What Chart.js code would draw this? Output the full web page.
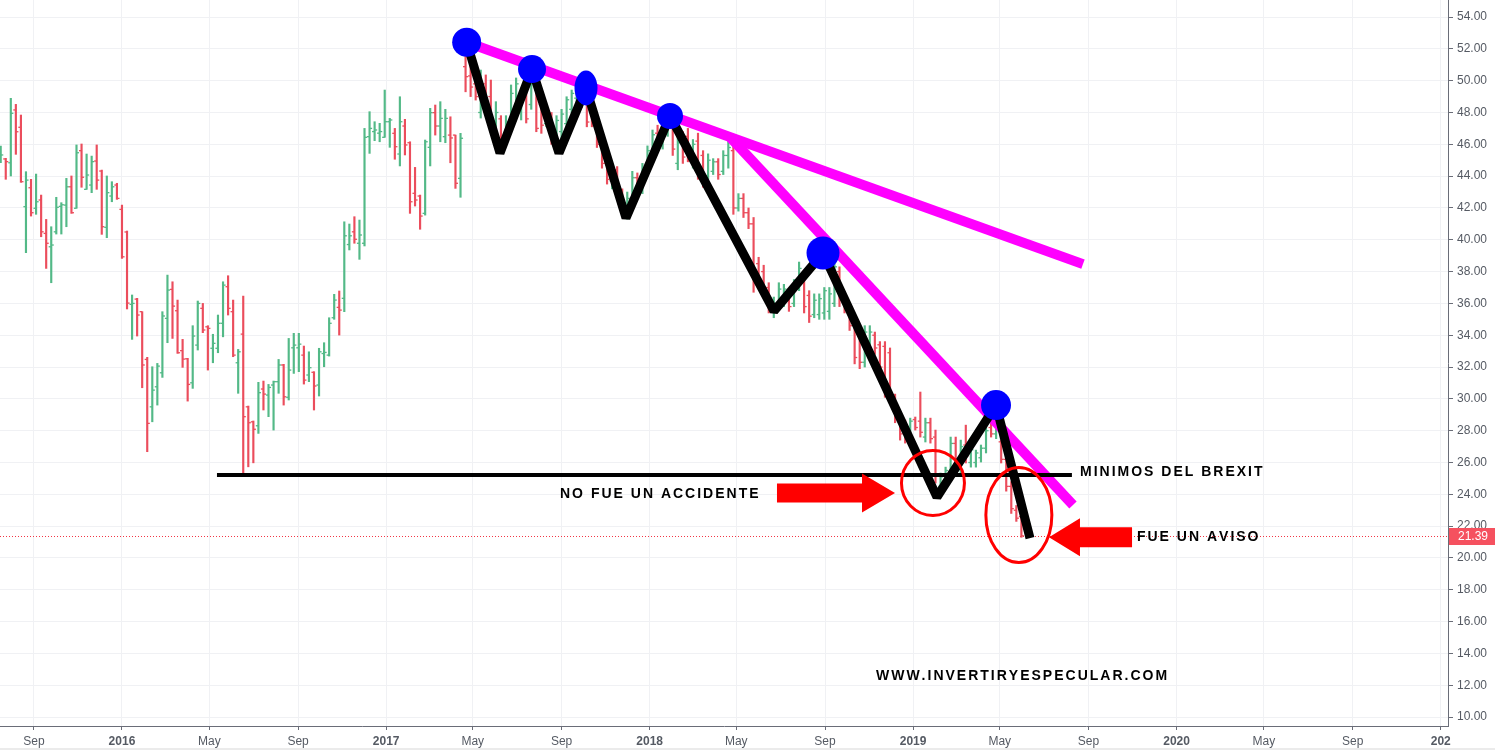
<!DOCTYPE html>
<html>
<head>
<meta charset="utf-8">
<script src="https://cdn.jsdelivr.net/npm/chart.js@4.4.1/dist/chart.umd.min.js"></script>
<style>
html,body{margin:0;padding:0;background:#ffffff;overflow:hidden;}
#box{position:relative;width:1495px;height:750px;}
</style>
</head>
<body>
<div id="box"><canvas id="chart" width="1495" height="750"></canvas></div>
<script>
// ---------- DATA ----------
const firstWeek = '2015-07-17';   // date of the first weekly bar (bars are one week apart)

const opens = [
45.01,45.08,44.84,48.16,47.07,42.08,43.27,41.98,42.50,40.40,
39.56,40.50,42.10,42.18,43.33,41.98,45.60,43.17,43.44,44.95,
44.32,40.78,42.75,43.44,41.91,40.49,35.94,36.27,35.48,32.48,
29.50,30.76,31.64,35.06,36.88,35.54,33.03,32.52,31.01,33.38,
35.69,34.53,33.18,33.18,34.75,37.05,35.48,32.27,34.07,29.50,
28.56,28.31,30.62,30.24,30.87,31.08,32.13,30.10,33.21,33.21,
32.75,31.50,31.67,30.87,32.85,32.75,35.10,35.75,36.32,39.70,
40.50,39.78,39.78,46.48,46.80,46.70,46.44,47.42,46.69,45.39,
47.15,46.10,42.92,42.75,41.66,45.81,47.99,47.15,46.48,46.58,
46.58,43.86,50.88,50.30,49.80,48.00,49.80,49.00,46.40,47.60,
46.20,47.50,48.20,48.00,49.00,48.50,50.00,48.50,47.30,47.80,
46.00,46.80,47.30,48.20,48.90,49.30,49.00,48.60,47.30,46.00,
44.80,43.70,44.40,42.90,41.70,42.60,43.90,43.20,44.50,45.50,
46.70,45.90,47.00,47.60,44.80,46.20,46.50,45.00,46.20,45.30,
44.00,44.30,44.90,44.30,45.30,45.60,42.00,42.60,41.70,41.00,
38.50,38.00,37.00,35.50,36.00,36.20,36.60,36.00,37.10,37.80,
36.50,35.30,35.30,35.40,35.50,36.00,38.00,36.30,35.60,34.80,
34.20,32.30,33.30,34.00,33.40,33.30,32.90,30.00,28.60,28.40,
27.80,28.70,28.60,27.60,28.50,27.60,24.50,24.90,25.40,27.20,
25.70,27.10,26.00,26.00,26.30,26.90,28.20,27.80,27.30,26.20,
24.50,23.00,22.60];

const highs = [
45.89,45.12,48.89,48.51,47.84,44.28,43.80,44.13,42.81,41.28,
40.82,42.67,42.33,43.86,44.01,45.96,46.02,45.39,45.26,45.96,
44.38,44.01,43.65,43.55,42.18,40.55,36.53,36.32,35.48,32.61,
32.02,32.23,35.48,37.78,37.36,36.21,33.74,32.55,34.60,36.15,
36.00,34.60,34.06,35.27,37.36,37.74,36.21,33.11,36.46,29.55,
28.61,31.04,31.12,30.91,31.12,32.48,32.17,33.80,34.12,34.12,
33.32,32.96,31.71,33.18,33.53,35.10,36.57,36.78,41.13,40.99,
41.45,41.24,47.00,48.05,47.42,47.32,49.41,47.63,47.00,48.99,
47.57,46.16,44.55,42.81,46.27,48.26,48.47,48.68,48.20,47.73,
46.58,46.69,52.40,51.20,50.50,50.67,50.36,50.04,48.68,47.80,
47.80,49.73,50.17,49.41,49.22,50.70,50.25,48.99,48.15,48.00,
47.80,48.20,48.99,49.41,49.60,50.00,49.20,48.90,47.50,46.30,
45.30,44.80,44.60,43.20,43.00,44.30,44.20,44.80,45.90,46.90,
47.20,47.50,48.00,47.90,46.60,46.80,47.00,46.30,46.70,45.60,
45.40,45.10,45.10,45.60,46.40,45.90,42.90,42.90,42.00,41.40,
38.90,38.40,37.30,36.40,37.30,37.20,36.80,37.50,38.60,38.00,
36.80,36.60,36.60,37.00,37.00,38.60,38.30,36.60,35.80,35.10,
34.50,34.60,34.60,34.20,33.60,33.60,33.20,30.30,28.86,28.67,
28.79,28.86,30.43,28.79,28.79,28.04,25.34,25.71,27.60,27.60,
27.41,28.35,26.97,26.78,27.10,28.30,28.48,29.20,27.41,26.50,
24.80,23.30,22.90];

const lows = [
44.84,43.80,44.01,45.37,43.61,39.19,41.49,41.60,40.19,38.20,
37.30,40.36,40.36,40.82,41.66,41.98,43.30,43.17,42.96,43.17,
40.34,40.13,42.39,42.54,38.83,35.65,33.74,33.95,30.70,26.68,
28.56,29.61,31.35,33.53,33.80,32.86,31.98,29.86,30.66,33.07,
34.16,31.81,32.27,32.90,33.90,35.27,32.65,30.35,25.27,25.73,
25.98,27.83,29.30,28.88,28.04,30.35,29.61,29.93,31.60,31.71,
30.93,31.08,29.30,30.18,32.02,32.69,35.00,34.01,35.48,39.36,
39.78,38.77,39.61,45.43,46.23,46.16,46.44,45.81,45.06,44.64,
45.33,41.66,42.12,40.66,41.55,44.64,46.58,46.16,46.10,44.84,
43.23,42.67,49.30,49.00,48.78,47.65,47.97,46.90,45.96,45.50,
45.90,47.34,47.73,47.53,47.34,48.20,46.79,46.69,47.10,46.00,
45.50,46.30,47.10,47.95,48.00,48.30,47.10,47.10,45.80,44.50,
43.50,43.20,42.50,41.50,41.30,42.30,42.90,42.90,44.20,45.10,
45.60,45.70,46.50,45.30,44.40,44.80,44.90,44.50,43.80,43.30,
43.80,44.10,43.80,44.10,44.50,41.60,41.80,41.40,40.70,36.70,
37.00,36.70,35.40,35.10,35.60,35.80,35.50,35.80,36.80,35.40,
34.80,35.10,35.00,35.00,35.00,35.80,35.80,35.40,34.30,32.20,
31.90,32.00,33.10,32.80,31.70,30.10,30.00,28.50,27.41,27.22,
27.60,28.04,27.60,27.29,27.22,24.71,24.27,24.71,25.09,25.34,
25.34,25.97,25.71,25.71,26.03,26.60,27.60,27.50,25.97,24.20,
22.80,22.30,21.30];

const closes = [
45.33,44.91,47.95,46.79,43.65,43.75,41.70,42.39,40.50,39.78,
39.67,42.04,42.20,43.33,41.70,45.47,43.93,44.07,44.91,43.75,
40.82,42.96,43.33,42.60,38.93,36.02,36.00,35.27,32.13,28.46,
30.55,32.06,35.21,36.84,35.83,32.90,32.50,30.91,33.95,36.00,
34.33,34.43,33.49,34.75,37.15,35.69,32.75,32.96,28.88,28.50,
28.09,30.39,30.30,30.72,31.08,32.13,30.13,31.81,33.38,33.44,
31.18,31.96,30.81,32.96,32.92,34.75,36.21,35.58,40.25,40.25,
40.03,40.30,46.44,47.00,46.90,46.80,47.42,47.53,45.85,47.42,
45.96,42.39,42.50,41.49,46.16,47.99,47.15,47.63,47.63,46.40,
43.55,46.38,50.25,49.60,49.00,49.80,48.30,47.20,48.00,46.00,
47.40,49.20,49.80,49.10,47.60,50.20,47.00,47.20,47.90,46.30,
47.50,47.90,48.80,49.20,49.30,48.60,47.40,47.30,46.00,44.80,
43.80,44.50,42.80,41.80,42.60,43.90,43.20,44.50,45.60,46.60,
45.90,47.20,47.70,45.70,46.10,45.20,45.40,46.00,44.20,43.60,
45.00,44.90,44.10,45.30,45.80,42.00,42.60,41.70,41.00,37.40,
37.30,37.00,35.80,36.00,36.90,36.90,35.80,37.20,38.20,35.80,
35.20,36.20,36.30,36.80,36.60,38.30,36.20,35.60,34.60,32.60,
32.30,34.20,34.20,33.20,32.00,30.50,30.40,28.80,27.80,27.60,
28.60,28.20,27.90,28.50,27.50,25.30,25.10,25.50,27.20,25.70,
27.00,26.40,26.80,26.60,26.90,28.00,27.80,28.80,26.20,24.50,
23.10,22.50,21.39];

const lastPrice = 21.39;

const yTicks = [10,12,14,16,18,20,22,24,26,28,30,32,34,36,38,40,42,44,46,48,50,52,54];
const xTickDates = ['2015-09-01','2016-01-01','2016-05-01','2016-09-01','2017-01-01','2017-05-01','2017-09-01',
  '2018-01-01','2018-05-01','2018-09-01','2019-01-01','2019-05-01','2019-09-01','2020-01-01','2020-05-01',
  '2020-09-01','2021-01-01'];
const xTickLabels = ['Sep','2016','May','Sep','2017','May','Sep','2018','May','Sep','2019','May','Sep','2020','May','Sep','202'];

// annotations, in [week position, price]
const trendLineTop = [[92.22,52.41],[214.19,38.47]];
const trendLineSteep = [[144.33,46.46],[212.21,23.33]];
const zigzag = [[92.22,52.41],[98.81,45.45],[105.15,50.73],[110.49,45.45],[115.83,49.54],[123.75,41.37],
  [132.46,47.78],[153.04,35.52],[162.74,39.17],[185.30,23.83],[196.98,29.61],[203.70,21.25]];
const peaks = [[92.22,52.41],[105.15,50.73],[115.83,49.54],[132.46,47.78],[162.74,39.17],[196.98,29.61]];
const brexitLow = [[42.8,25.21],[212.0,25.21]];
const circledZones = [[184.5,24.71],[201.5,22.70]];
const arrows = [[[153.63,24.08],[176.99,24.08]],[[223.9,21.31],[207.46,21.31]]];
const notes = [
  {text:'NO FUE UN ACCIDENTE', at:[110.69,24.02]},
  {text:'MINIMOS DEL BREXIT', at:[213.6,25.40]},
  {text:'FUE UN AVISO', at:[224.87,21.31]},
  {text:'WWW.INVERTIRYESPECULAR.COM', at:[173.22,12.58]}
];

// ---------- CHART ----------
const FONT = '"Liberation Sans", Arial, Helvetica, sans-serif';
const UP = '#53b987', DOWN = '#eb4d5c';
const barColors = closes.map((c,i)=> c >= opens[i] ? UP : DOWN);
const t0 = Date.parse(firstWeek + 'T00:00:00Z');
const weekPos = d => (Date.parse(d + 'T00:00:00Z') - t0) / 864e5 / 7;
const pts = arr => arr.map(p => ({x:p[0], y:p[1]}));

function ellipseCanvas(rx, ry, color){
  const cv = document.createElement('canvas');
  cv.width = rx*2; cv.height = ry*2;
  const g = cv.getContext('2d');
  g.fillStyle = color; g.beginPath(); g.ellipse(rx, ry, rx-0.5, ry-0.5, 0, 0, Math.PI*2); g.fill();
  return cv;
}
const peakRadius = [14.5,14,12,13,16.5,15];
const peakStyle = ['circle','circle',ellipseCanvas(12,18,'#0000ff'),'circle','circle','circle'];

const overlay = {
  id:'overlay',
  beforeDatasetsDraw(chart){
    const {ctx, chartArea:a, scales:{y}} = chart;
    const py = Math.round(y.getPixelForValue(lastPrice)) + 0.5;
    ctx.save();
    ctx.strokeStyle = '#f23645'; ctx.lineWidth = 1; ctx.setLineDash([1,2]);
    ctx.beginPath(); ctx.moveTo(a.left, py); ctx.lineTo(a.right, py); ctx.stroke();
    ctx.restore();
  },
  afterDatasetsDraw(chart){
    const {ctx, scales:{x,y}} = chart;
    ctx.save();
    const rad = [[31.5,32.5],[33,47.5]];
    ctx.strokeStyle = '#ff0000'; ctx.lineWidth = 3;
    circledZones.forEach((c,i)=>{
      ctx.beginPath();
      ctx.ellipse(x.getPixelForValue(c[0]), y.getPixelForValue(c[1]), rad[i][0], rad[i][1], 0, 0, Math.PI*2);
      ctx.stroke();
    });
    const arrowShape = [{body:9.5, head:19.5, len:33},{body:10, head:19, len:31}];
    ctx.fillStyle = '#ff0000';
    arrows.forEach((ar,i)=>{
      const tx = x.getPixelForValue(ar[0][0]), hx = x.getPixelForValue(ar[1][0]), cy = y.getPixelForValue(ar[0][1]);
      const s = arrowShape[i], dir = Math.sign(hx - tx), bx = hx - dir*s.len;
      ctx.beginPath();
      ctx.moveTo(tx, cy - s.body); ctx.lineTo(bx, cy - s.body); ctx.lineTo(bx, cy - s.head);
      ctx.lineTo(hx, cy); ctx.lineTo(bx, cy + s.head); ctx.lineTo(bx, cy + s.body); ctx.lineTo(tx, cy + s.body);
      ctx.closePath(); ctx.fill();
    });
    ctx.fillStyle = '#000000'; ctx.font = 'bold 14px ' + FONT; ctx.textBaseline = 'middle'; ctx.textAlign = 'left';
    const spacing = 2;
    notes.forEach(n=>{
      let px = x.getPixelForValue(n.at[0]); const py = y.getPixelForValue(n.at[1]);
      for (const ch of n.text){ ctx.fillText(ch, px, py); px += ctx.measureText(ch).width + spacing; }
    });
    ctx.restore();
  },
  afterDraw(chart){
    const {ctx, chartArea:a, scales:{y}, width, height} = chart;
    const py = y.getPixelForValue(lastPrice);
    ctx.save();
    ctx.fillStyle = '#f5515f';
    ctx.fillRect(a.right + 1, Math.round(py) - 8, width - a.right - 1, 17);
    ctx.fillStyle = '#ffffff'; ctx.font = '12px ' + FONT; ctx.textBaseline = 'middle'; ctx.textAlign = 'left';
    ctx.fillText(lastPrice.toFixed(2), a.right + 10, Math.round(py) + 1);
    // light frame strip at the very bottom of the picture
    ctx.fillStyle = '#ebebeb';
    ctx.fillRect(0, height - 2, width, 2);
    ctx.restore();
  }
};

new Chart(document.getElementById('chart'), {
  type: 'bar',
  data: {
    datasets: [
      { type:'scatter', label:'peaks', order:1, data: pts(peaks), pointRadius: peakRadius, pointStyle: peakStyle,
        backgroundColor:'#0000ff', borderWidth:0, pointHoverRadius: peakRadius },
      { type:'line', label:'brexit', order:2, data: pts(brexitLow), borderColor:'#000000', borderWidth:4, pointRadius:0, tension:0 },
      { type:'line', label:'zigzag', order:3, data: pts(zigzag), borderColor:'#000000', borderWidth:9, pointRadius:0,
        tension:0, borderJoinStyle:'bevel', borderCapStyle:'butt' },
      { type:'line', label:'trend1', order:4, data: pts(trendLineTop), borderColor:'#ff00ff', borderWidth:10, pointRadius:0, tension:0 },
      { type:'line', label:'trend2', order:4, data: pts(trendLineSteep), borderColor:'#ff00ff', borderWidth:10, pointRadius:0, tension:0 },
      { type:'scatter', label:'open', order:8, data: opens.map((o,i)=>({x:i-0.25, y:o})), pointStyle:'line', pointRadius:1.3,
        borderWidth:1.3, borderColor: barColors, backgroundColor: barColors },
      { type:'scatter', label:'close', order:8, data: closes.map((c,i)=>({x:i+0.25, y:c})), pointStyle:'line', pointRadius:1.3,
        borderWidth:1.3, borderColor: barColors, backgroundColor: barColors },
      { type:'bar', label:'range', order:9, data: highs.map((h,i)=>({x:i, y:[lows[i], h]})), backgroundColor: barColors,
        borderWidth:0, barThickness:1.5, grouped:false }
    ]
  },
  options: {
    responsive:false, animation:false, devicePixelRatio:1,
    layout:{ padding:0, autoPadding:false },
    plugins:{ legend:{display:false}, tooltip:{enabled:false} },
    scales:{
      x:{
        type:'linear', min:-0.139, max:286.43, offset:false,
        afterBuildTicks: s => { s.ticks = xTickDates.map(d => ({value: weekPos(d)})); },
        afterFit: s => { s.height = 24; s.paddingLeft = 0; s.paddingRight = 0; },
        grid:{ color:'#f0f1f4', offset:false, tickLength:4, tickColor:'#6a6d78' },
        border:{ color:'#6a6d78' },
        ticks:{ autoSkip:false, maxRotation:0, padding:4, color:'#555a63',
          callback:(v,i)=> xTickLabels[i],
          font: c => ({ family:FONT, size:12, weight: /^\d/.test(xTickLabels[c.index] || '') ? 'bold' : 'normal' }) }
      },
      y:{
        position:'right', min:9.44, max:55.07,
        afterBuildTicks: s => { s.ticks = yTicks.map(v => ({value:v})); },
        afterFit: s => { s.width = 47; s.paddingTop = 0; s.paddingBottom = 0; },
        grid:{ color:'#f0f1f4', tickLength:5, tickColor:'#6a6d78' },
        border:{ color:'#6a6d78' },
        ticks:{ padding:4, color:'#555a63', font:{family:FONT, size:12}, callback: v => Number(v).toFixed(2) }
      }
    }
  },
  plugins:[overlay]
});
</script>
</body>
</html>
